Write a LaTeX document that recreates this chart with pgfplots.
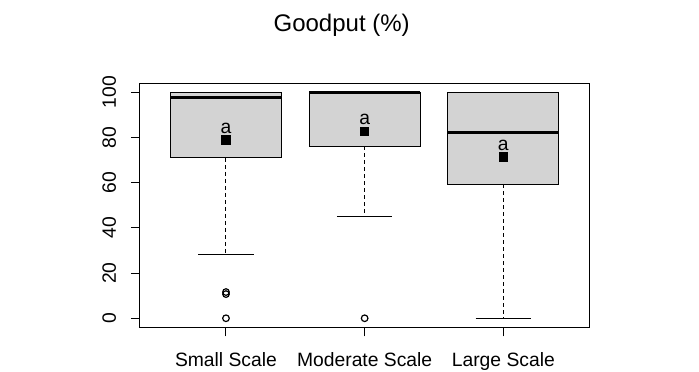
\documentclass[border=0pt]{standalone}
\usepackage{pgfplots}
\pgfplotsset{compat=1.18}
\usepackage{fontspec}
\setmainfont{Liberation Sans}
\definecolor{boxgray}{RGB}{211,211,211}
\newcommand{\tickfont}{\fontsize{19.3bp}{23bp}\selectfont}
\newcommand{\titlefont}{\fontsize{24bp}{29bp}\selectfont}
\begin{document}
\begin{tikzpicture}
\useasboundingbox (-140bp,-44.7bp) rectangle (559bp,327.3bp);
\begin{axis}[
  at={(0,0)}, anchor=south west,
  scale only axis, width=449.3bp, height=244bp,
  xmin=0.38, xmax=3.62, ymin=-4, ymax=104,
  xtick={1,2,3}, xticklabels={Small Scale, Moderate Scale, Large Scale},
  ytick={0,20,40,60,80,100},
  tick align=outside, xtick pos=bottom, ytick pos=left,
  major tick length=9bp,
  tick style={black, line width=1bp},
  axis line style={line width=1bp},
  /pgf/number format/assume math mode=true,
  tick label style={font=\tickfont},
  yticklabel style={rotate=90, anchor=base, yshift=15bp},
  xticklabel style={anchor=base, yshift=-30.5bp},
  title={Goodput (\%)},
  title style={font=\titlefont, at={(0.4488,1)}, anchor=base, yshift=46bp},
  unbounded coords=jump,
  clip=false,
]
% whiskers (dashed)
\addplot[black, line width=1bp, dash pattern=on 4bp off 3bp, line cap=butt]
  coordinates {(1,71) (1,28.4) (nan,nan) (2,76.2) (2,45) (nan,nan) (3,59.4) (3,0)};
% boxes (lower quartile to upper quartile)
\addplot[fill=boxgray, draw=black, line width=1bp] coordinates {(0.6,71) (1.4,71) (1.4,100) (0.6,100)} -- cycle;
\addplot[fill=boxgray, draw=black, line width=1bp] coordinates {(1.6,76.2) (2.4,76.2) (2.4,100) (1.6,100)} -- cycle;
\addplot[fill=boxgray, draw=black, line width=1bp] coordinates {(2.6,59.4) (3.4,59.4) (3.4,100) (2.6,100)} -- cycle;
% whisker caps (lower and upper)
\addplot[black, line width=1bp]
  coordinates {(0.8,28.4) (1.2,28.4) (nan,nan) (1.8,45) (2.2,45) (nan,nan) (2.8,0) (3.2,0)
               (nan,nan) (0.8,100) (1.2,100) (nan,nan) (1.8,100) (2.2,100) (nan,nan) (2.8,100) (3.2,100)};
% medians
\addplot[black, line width=3bp, line cap=butt]
  coordinates {(0.6,97.5) (1.4,97.5) (nan,nan) (1.6,99.8) (2.4,99.8) (nan,nan) (2.6,82.3) (3.4,82.3)};
% outliers
\addplot[only marks, mark=o, mark size=3.3bp, black, line width=1.2bp]
  coordinates {(1,0) (1,10.7) (1,11.6) (2,0)};
% means with labels
\addplot[only marks, mark=square*, mark size=4.3bp, mark options={fill=black, draw=black, line width=0pt},
  nodes near coords={\tickfont\pgfplotspointmeta}, point meta=explicit symbolic,
  nodes near coords style={anchor=base, yshift=6.7bp, inner sep=0pt, black}]
  coordinates {(1,78.8) [a] (2,82.6) [a] (3,71.5) [a]};
\end{axis}
\end{tikzpicture}
\end{document}
